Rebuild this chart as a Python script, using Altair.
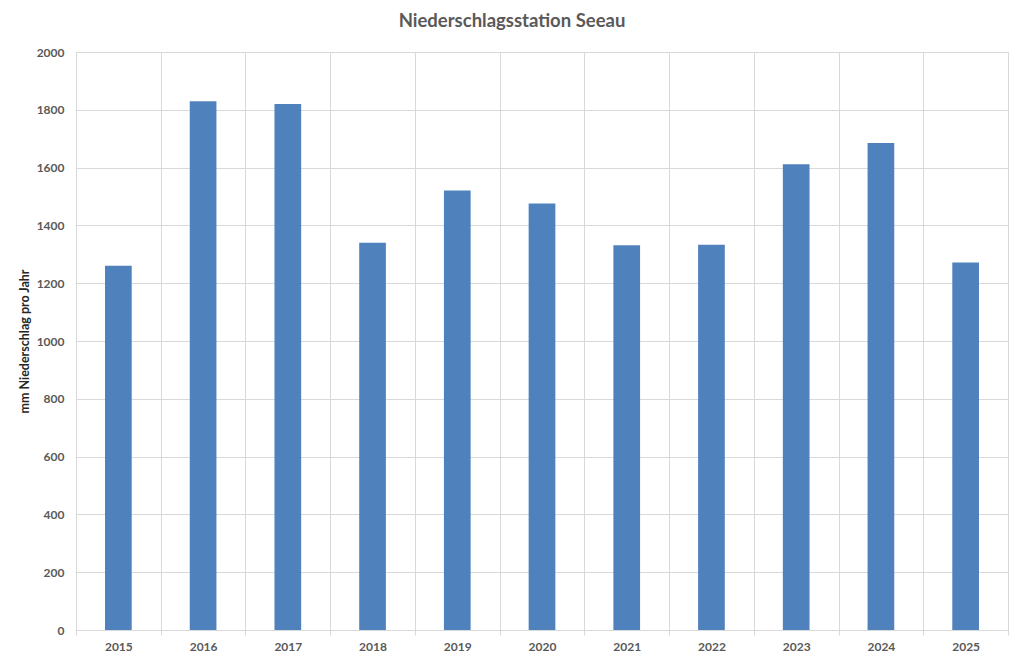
import altair as alt
import pandas as pd

years = ["2015", "2016", "2017", "2018", "2019", "2020", "2021", "2022", "2023", "2024", "2025"]
precip = [1260, 1830, 1820, 1340, 1521, 1476, 1331, 1333, 1612, 1685, 1272]

df = pd.DataFrame({"Jahr": years, "mm": precip})

FONT = "Lato"
GRID = "#d9d9d9"
TXT = "#595959"

chart = alt.Chart(df).mark_bar(
    color="#4F81BD", width=alt.RelativeBandSize(0.315)
).encode(
    x=alt.X("Jahr:N", sort=years, title=None,
            scale=alt.Scale(paddingInner=0, paddingOuter=0),
            axis=alt.Axis(tickBand="extent", grid=True, gridColor=GRID,
                          domain=True, domainColor=GRID, ticks=True, tickColor=GRID,
                          tickSize=5, labelAngle=0, labelFont=FONT, labelFontSize=12,
                          labelFontWeight="bold", labelColor=TXT, labelPadding=6)),
    y=alt.Y("mm:Q", title="mm Niederschlag pro Jahr",
            scale=alt.Scale(domain=[0, 2000], nice=False),
            axis=alt.Axis(values=list(range(0, 2001, 200)), format="d", grid=True,
                          gridColor=GRID, domain=False, ticks=False, labelFont=FONT,
                          labelFontSize=12, labelFontWeight="bold", labelColor=TXT,
                          labelPadding=12, titleFont=FONT, titleFontSize=12.5,
                          titleFontWeight="bold", titleColor="#262626", titlePadding=5)),
).properties(
    width=932, height=578,
    title=alt.TitleParams("Niederschlagsstation Seeau", font=FONT, fontSize=18.5,
                          fontWeight="bold", color=TXT, anchor="middle", offset=16,
                          dx=-30),
    autosize=alt.AutoSizeParams(type="none"),
    padding={"left": 68, "top": 44, "right": 8, "bottom": 25},
).configure_view(stroke=GRID).configure(background="white")

chart.save("out.html", embed_options={"renderer": "svg", "actions": False})
